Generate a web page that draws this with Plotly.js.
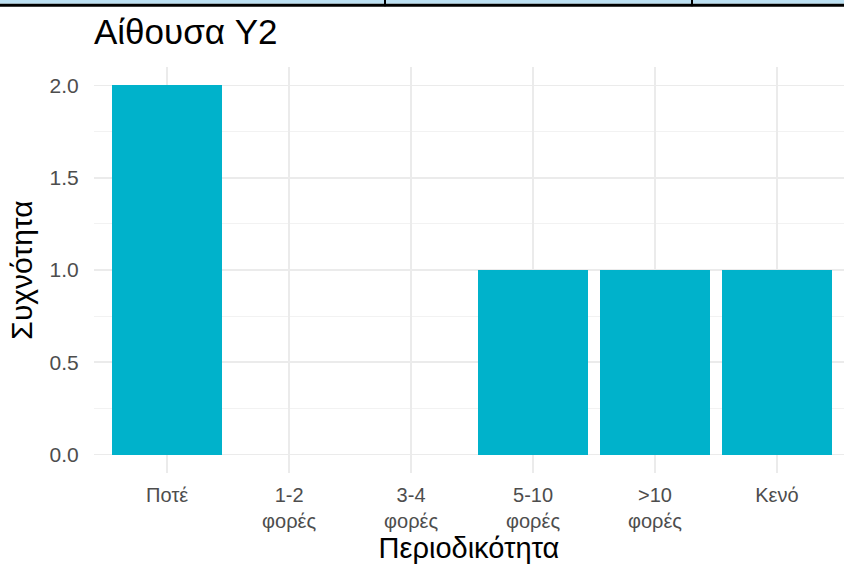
<!DOCTYPE html>
<html>
<head>
<meta charset="utf-8">
<script src="https://cdn.plot.ly/plotly-3.0.1.min.js"></script>
<style>html,body{margin:0;padding:0;background:#fff;}#chart{width:844px;height:565px;}</style>
</head>
<body>
<div id="chart"></div>
<script>
const categories = ["Ποτέ", "1-2<br>φορές", "3-4<br>φορές", "5-10<br>φορές", ">10<br>φορές", "Κενό"];
const counts = [2, 0, 0, 1, 1, 1];
const yTicks = [0, 0.5, 1, 1.5, 2];
const yTickLabels = ["0.0", "0.5", "1.0", "1.5", "2.0"];

const trace = {
  type: 'bar',
  x: categories.map((c, i) => i),
  y: counts,
  width: 0.9,
  marker: {color: '#00B2CB', line: {width: 0}},
  hoverinfo: 'skip'
};

const layout = {
  width: 844, height: 565,
  margin: {l: 94, r: 0, t: 66.5, b: 91.5},
  paper_bgcolor: '#fff', plot_bgcolor: '#fff',
  font: {family: 'Liberation Sans, Arial, sans-serif', color: '#4D4D4D'},
  showlegend: false,
  bargap: 0,
  title: {
    text: 'Αίθουσα Y2',
    font: {size: 35, color: '#000', family: 'Liberation Sans, Arial, sans-serif'},
    x: 94/844, xref: 'container', xanchor: 'left',
    y: 1 - 32/565, yref: 'container', yanchor: 'middle'
  },
  xaxis: {
    range: [-0.6, 5.55],
    tickmode: 'array',
    tickvals: categories.map((c, i) => i),
    ticktext: categories,
    tickfont: {size: 20, color: '#4D4D4D'},
    showgrid: true, gridcolor: '#EBEBEB', gridwidth: 1.6,
    zeroline: false, showline: false,
    ticks: 'outside', ticklen: 4, tickcolor: 'rgba(0,0,0,0)',
    title: {text: 'Περιοδικότητα', font: {size: 29, color: '#000'}, standoff: 3},
    automargin: false, fixedrange: true
  },
  yaxis: {
    range: [-0.1, 2.1],
    tickmode: 'array',
    tickvals: yTicks,
    ticktext: yTickLabels,
    tickfont: {size: 21, color: '#4D4D4D'},
    showgrid: true, gridcolor: '#EBEBEB', gridwidth: 1.6,
    minor: {dtick: 0.25, tick0: 0, showgrid: true, gridcolor: '#F2F2F2', gridwidth: 1, ticks: ''},
    zeroline: false, showline: false,
    ticks: 'outside', ticklen: 10, tickcolor: 'rgba(0,0,0,0)',
    title: {text: 'Συχνότητα', font: {size: 30, color: '#000'}, standoff: 8},
    automargin: false, fixedrange: true
  },
  shapes: [
    {type: 'rect', xref: 'paper', yref: 'paper', x0: -94/750, x1: 1, y0: 1 + 63.5/407, y1: 1 + 70/407, fillcolor: '#BCE0F2', line: {width: 0}},
    {type: 'line', xref: 'paper', yref: 'paper', x0: -94/750, x1: 1, y0: 1 + 62/407, y1: 1 + 62/407, line: {color: '#000', width: 3}},
    {type: 'line', xref: 'paper', yref: 'paper', x0: (385-94)/750, x1: (385-94)/750, y0: 1 + 61/407, y1: 1 + 70/407, line: {color: '#000', width: 2}},
    {type: 'line', xref: 'paper', yref: 'paper', x0: (692-94)/750, x1: (692-94)/750, y0: 1 + 61/407, y1: 1 + 70/407, line: {color: '#000', width: 2}}
  ]
};

Plotly.newPlot('chart', [trace], layout, {displayModeBar: false, staticPlot: true});
</script>
</body>
</html>
